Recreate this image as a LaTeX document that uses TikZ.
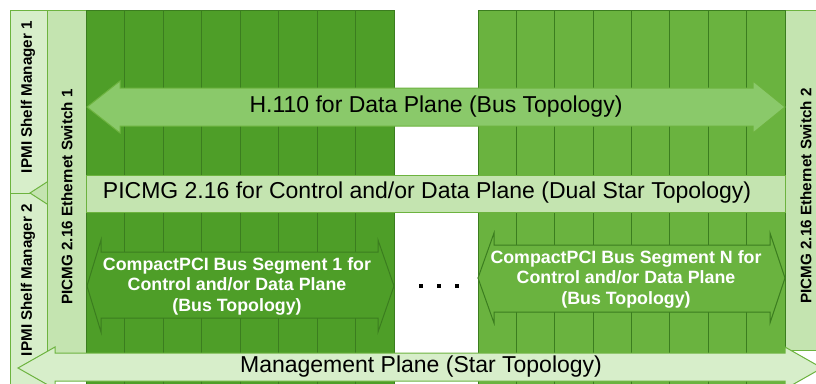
\documentclass[tikz,border=0pt]{standalone}
\usepackage{fontspec}
\setmainfont{Liberation Sans}
\definecolor{slotA}{HTML}{4E9E28}
\definecolor{slotB}{HTML}{6AB33F}
\definecolor{lineC}{HTML}{3B7D1F}
\definecolor{hbar}{HTML}{8AC96A}
\definecolor{pbar}{HTML}{C4E4B0}
\definecolor{mbar}{HTML}{D7EECA}
\definecolor{edgeC}{HTML}{6DB33F}
\begin{document}
\begin{tikzpicture}[x=1pt,y=-1pt,line width=1pt,
  lightshape/.style={draw=edgeC},
  darkshape/.style={draw=lineC},
  bigtxt/.style={inner sep=0pt,text=black,font=\fontsize{23}{27}\selectfont},
  cpcitxt/.style={inner sep=0pt,text=white,align=center,font=\bfseries\fontsize{17.8}{20.5}\selectfont},
  sidetxt/.style={inner sep=0pt,rotate=90,text=black,font=\bfseries\fontsize{15.2}{17}\selectfont}]
\useasboundingbox (0,0) rectangle (816,383);
\fill[white] (0,0) rectangle (816,383);
% shelf manager column
\draw[lightshape,fill=mbar] (10,10) rectangle (47,395);
\draw[lightshape] (10,193) -- (30,193);
% ethernet switch columns
\draw[lightshape,fill=pbar] (47,10) rectangle (86,353);
\draw[lightshape,fill=pbar] (785,10) rectangle (830,350);
% slot groups
\draw[darkshape,fill=slotA] (86,10) rectangle (394,395);
\foreach \i in {1,...,7} \draw[lineC] (86+38.5*\i,10) -- ++(0,385);
\draw[darkshape,fill=slotB] (478,10) rectangle (785,395);
\foreach \i in {1,...,7} \draw[lineC] (478+38.375*\i,10) -- ++(0,385);
% H.110 arrow
\draw[lightshape,fill=hbar] (87,107) -- (120,81) -- (120,88) -- (753,88) -- (753,81) -- (785,107) -- (753,133) -- (753,126) -- (120,126) -- (120,133) -- cycle;
% PICMG bar
\draw[lightshape,fill=pbar] (86,175) rectangle (785,212);
% CompactPCI arrows
\draw[darkshape,fill=slotA] (87,286) -- (101,240) -- (101,252) -- (378,252) -- (378,240) -- (394,286) -- (378,332) -- (378,318) -- (101,318) -- (101,332) -- cycle;
\draw[darkshape,fill=slotB] (478,278) -- (494,233) -- (494,245) -- (770,245) -- (770,233) -- (785,278) -- (770,323) -- (770,312) -- (494,312) -- (494,323) -- cycle;
% dots
\foreach \x in {421,439,457} \fill[black] (\x-2.2,284) rectangle (\x+2.2,288.4);
% management arrow
\draw[lightshape,fill=mbar] (18,368) -- (55,347) -- (55,353) -- (785,353) -- (785,347) -- (822,368) -- (785,389) -- (785,381) -- (55,381) -- (55,389) -- cycle;
% small link triangle
\draw[lightshape,fill=pbar] (47,182) -- (30,193) -- (47,204);
% texts
\node[bigtxt] (h110) at (436,107) {H.110 for Data Plane (Bus Topology)};
\node[bigtxt] (picmg) at (427,193) {PICMG 2.16 for Control and/or Data Plane (Dual Star Topology)};
\node[bigtxt] (mgmt) at (421,367) {Management Plane (Star Topology)};
\node[cpcitxt] (cpci1) at (237,286) {CompactPCI Bus Segment 1 for\\Control and/or Data Plane\\(Bus Topology)};
\node[cpcitxt] (cpciN) at (626,279) {CompactPCI Bus Segment N for\\Control and/or Data Plane\\(Bus Topology)};
\node[sidetxt] (sm1) at (28,97) {IPMI Shelf Manager 1};
\node[sidetxt] (sm2) at (28,280) {IPMI Shelf Manager 2};
\node[sidetxt] (es1) at (67,197) {PICMG 2.16 Ethernet Switch 1};
\node[sidetxt] (es2) at (806,196) {PICMG 2.16 Ethernet Switch 2};
\end{tikzpicture}
\end{document}
